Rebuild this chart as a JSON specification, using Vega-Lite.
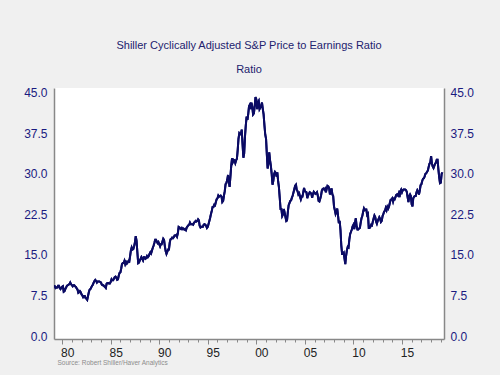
{
"$schema": "https://vega.github.io/schema/vega-lite/v6.json",
"width": 390, "height": 251,
"autosize": "none",
"padding": {"left": 54, "top": 88, "right": 56, "bottom": 36},
"background": "#f0f0f0",
"view": {"fill": "white", "stroke": null},
"title": {"text": "Shiller Cyclically Adjusted S&P Price to Earnings Ratio", "subtitle": "Ratio", "font": "Liberation Sans", "fontSize": 11, "fontWeight": "normal", "color": "#22226e", "subtitleFont": "Liberation Sans", "subtitleFontSize": 11, "subtitleColor": "#22226e", "subtitlePadding": 13, "offset": 12, "anchor": "middle", "frame": "group"},
"datasets": {"cape": [
{"date":"1979-03-01","v":9.2},{"date":"1979-04-01","v":9.2},{"date":"1979-05-01","v":8.9},{"date":"1979-06-01","v":9.0},{"date":"1979-07-01","v":9.0},{"date":"1979-08-01","v":9.3},{"date":"1979-09-01","v":9.3},{"date":"1979-10-01","v":8.9},{"date":"1979-11-01","v":8.7},{"date":"1979-12-01","v":8.9},
{"date":"1980-01-01","v":9.1},{"date":"1980-02-01","v":9.2},{"date":"1980-03-01","v":8.2},{"date":"1980-04-01","v":8.3},{"date":"1980-05-01","v":8.7},{"date":"1980-06-01","v":9.0},{"date":"1980-07-01","v":9.3},{"date":"1980-08-01","v":9.4},{"date":"1980-09-01","v":9.5},{"date":"1980-10-01","v":9.6},{"date":"1980-11-01","v":9.9},{"date":"1980-12-01","v":9.6},
{"date":"1981-01-01","v":9.4},{"date":"1981-02-01","v":9.2},{"date":"1981-03-01","v":9.4},{"date":"1981-04-01","v":9.4},{"date":"1981-05-01","v":9.2},{"date":"1981-06-01","v":9.1},{"date":"1981-07-01","v":8.8},{"date":"1981-08-01","v":8.6},{"date":"1981-09-01","v":8.0},{"date":"1981-10-01","v":8.1},{"date":"1981-11-01","v":8.3},{"date":"1981-12-01","v":8.1},
{"date":"1982-01-01","v":7.7},{"date":"1982-02-01","v":7.5},{"date":"1982-03-01","v":7.2},{"date":"1982-04-01","v":7.4},{"date":"1982-05-01","v":7.4},{"date":"1982-06-01","v":7.0},{"date":"1982-07-01","v":6.9},{"date":"1982-08-01","v":6.7},{"date":"1982-09-01","v":7.4},{"date":"1982-10-01","v":8.1},{"date":"1982-11-01","v":8.6},{"date":"1982-12-01","v":8.7},
{"date":"1983-01-01","v":9.0},{"date":"1983-02-01","v":9.3},{"date":"1983-03-01","v":9.5},{"date":"1983-04-01","v":9.9},{"date":"1983-05-01","v":10.2},{"date":"1983-06-01","v":10.4},{"date":"1983-07-01","v":10.2},{"date":"1983-08-01","v":9.9},{"date":"1983-09-01","v":10.1},{"date":"1983-10-01","v":10.1},{"date":"1983-11-01","v":10.1},{"date":"1983-12-01","v":10.0},
{"date":"1984-01-01","v":9.9},{"date":"1984-02-01","v":9.5},{"date":"1984-03-01","v":9.4},{"date":"1984-04-01","v":9.4},{"date":"1984-05-01","v":9.2},{"date":"1984-06-01","v":9.1},{"date":"1984-07-01","v":8.9},{"date":"1984-08-01","v":9.7},{"date":"1984-09-01","v":9.8},{"date":"1984-10-01","v":9.8},{"date":"1984-11-01","v":9.7},{"date":"1984-12-01","v":9.7},
{"date":"1985-01-01","v":10.0},{"date":"1985-02-01","v":10.5},{"date":"1985-03-01","v":10.3},{"date":"1985-04-01","v":10.3},{"date":"1985-05-01","v":10.6},{"date":"1985-06-01","v":10.9},{"date":"1985-07-01","v":11.0},{"date":"1985-08-01","v":10.8},{"date":"1985-09-01","v":10.4},{"date":"1985-10-01","v":10.5},{"date":"1985-11-01","v":11.2},{"date":"1985-12-01","v":11.7},
{"date":"1986-01-01","v":11.8},{"date":"1986-02-01","v":12.5},{"date":"1986-03-01","v":13.3},{"date":"1986-04-01","v":13.5},{"date":"1986-05-01","v":13.5},{"date":"1986-06-01","v":13.9},{"date":"1986-07-01","v":13.3},{"date":"1986-08-01","v":13.7},{"date":"1986-09-01","v":13.4},{"date":"1986-10-01","v":13.6},{"date":"1986-11-01","v":13.9},{"date":"1986-12-01","v":13.8},
{"date":"1987-01-01","v":14.8},{"date":"1987-02-01","v":15.9},{"date":"1987-03-01","v":16.4},{"date":"1987-04-01","v":16.0},{"date":"1987-05-01","v":16.1},{"date":"1987-06-01","v":16.6},{"date":"1987-07-01","v":17.3},{"date":"1987-08-01","v":18.5},{"date":"1987-09-01","v":17.6},{"date":"1987-10-01","v":15.5},{"date":"1987-11-01","v":13.5},{"date":"1987-12-01","v":13.6},
{"date":"1988-01-01","v":14.0},{"date":"1988-02-01","v":14.3},{"date":"1988-03-01","v":14.6},{"date":"1988-04-01","v":14.3},{"date":"1988-05-01","v":14.0},{"date":"1988-06-01","v":14.6},{"date":"1988-07-01","v":14.6},{"date":"1988-08-01","v":14.3},{"date":"1988-09-01","v":14.4},{"date":"1988-10-01","v":14.8},{"date":"1988-11-01","v":14.6},{"date":"1988-12-01","v":14.8},
{"date":"1989-01-01","v":15.2},{"date":"1989-02-01","v":15.5},{"date":"1989-03-01","v":15.3},{"date":"1989-04-01","v":15.8},{"date":"1989-05-01","v":16.3},{"date":"1989-06-01","v":16.7},{"date":"1989-07-01","v":17.2},{"date":"1989-08-01","v":17.8},{"date":"1989-09-01","v":17.8},{"date":"1989-10-01","v":17.5},{"date":"1989-11-01","v":17.2},{"date":"1989-12-01","v":17.4},
{"date":"1990-01-01","v":17.0},{"date":"1990-02-01","v":16.6},{"date":"1990-03-01","v":17.0},{"date":"1990-04-01","v":17.0},{"date":"1990-05-01","v":17.5},{"date":"1990-06-01","v":18.0},{"date":"1990-07-01","v":17.8},{"date":"1990-08-01","v":16.6},{"date":"1990-09-01","v":15.7},{"date":"1990-10-01","v":15.2},{"date":"1990-11-01","v":15.6},{"date":"1990-12-01","v":16.0},
{"date":"1991-01-01","v":16.0},{"date":"1991-02-01","v":17.3},{"date":"1991-03-01","v":17.9},{"date":"1991-04-01","v":18.0},{"date":"1991-05-01","v":18.2},{"date":"1991-06-01","v":18.1},{"date":"1991-07-01","v":18.3},{"date":"1991-08-01","v":18.6},{"date":"1991-09-01","v":18.6},{"date":"1991-10-01","v":18.7},{"date":"1991-11-01","v":18.4},{"date":"1991-12-01","v":19.0},
{"date":"1992-01-01","v":20.2},{"date":"1992-02-01","v":20.1},{"date":"1992-03-01","v":19.9},{"date":"1992-04-01","v":19.8},{"date":"1992-05-01","v":20.0},{"date":"1992-06-01","v":19.8},{"date":"1992-07-01","v":19.9},{"date":"1992-08-01","v":19.7},{"date":"1992-09-01","v":19.8},{"date":"1992-10-01","v":19.6},{"date":"1992-11-01","v":20.1},{"date":"1992-12-01","v":20.3},
{"date":"1993-01-01","v":20.5},{"date":"1993-02-01","v":20.6},{"date":"1993-03-01","v":21.0},{"date":"1993-04-01","v":20.7},{"date":"1993-05-01","v":20.7},{"date":"1993-06-01","v":20.7},{"date":"1993-07-01","v":20.6},{"date":"1993-08-01","v":21.0},{"date":"1993-09-01","v":21.1},{"date":"1993-10-01","v":21.3},{"date":"1993-11-01","v":21.2},{"date":"1993-12-01","v":21.3},
{"date":"1994-01-01","v":21.6},{"date":"1994-02-01","v":21.4},{"date":"1994-03-01","v":20.4},{"date":"1994-04-01","v":20.1},{"date":"1994-05-01","v":20.2},{"date":"1994-06-01","v":20.2},{"date":"1994-07-01","v":20.2},{"date":"1994-08-01","v":20.6},{"date":"1994-09-01","v":20.7},{"date":"1994-10-01","v":20.6},{"date":"1994-11-01","v":20.4},{"date":"1994-12-01","v":20.0},
{"date":"1995-01-01","v":20.2},{"date":"1995-02-01","v":20.8},{"date":"1995-03-01","v":21.3},{"date":"1995-04-01","v":21.9},{"date":"1995-05-01","v":22.6},{"date":"1995-06-01","v":23.2},{"date":"1995-07-01","v":23.9},{"date":"1995-08-01","v":23.9},{"date":"1995-09-01","v":24.3},{"date":"1995-10-01","v":24.2},{"date":"1995-11-01","v":24.8},{"date":"1995-12-01","v":25.3},
{"date":"1996-01-01","v":25.5},{"date":"1996-02-01","v":26.0},{"date":"1996-03-01","v":25.8},{"date":"1996-04-01","v":25.9},{"date":"1996-05-01","v":26.0},{"date":"1996-06-01","v":25.8},{"date":"1996-07-01","v":24.8},{"date":"1996-08-01","v":25.0},{"date":"1996-09-01","v":26.0},{"date":"1996-10-01","v":26.8},{"date":"1996-11-01","v":28.1},{"date":"1996-12-01","v":28.3},
{"date":"1997-01-01","v":28.9},{"date":"1997-02-01","v":29.8},{"date":"1997-03-01","v":28.6},{"date":"1997-04-01","v":27.6},{"date":"1997-05-01","v":29.5},{"date":"1997-06-01","v":31.5},{"date":"1997-07-01","v":32.9},{"date":"1997-08-01","v":32.2},{"date":"1997-09-01","v":32.6},{"date":"1997-10-01","v":32.5},{"date":"1997-11-01","v":32.0},{"date":"1997-12-01","v":32.5},
{"date":"1998-01-01","v":32.8},{"date":"1998-02-01","v":34.5},{"date":"1998-03-01","v":36.5},{"date":"1998-04-01","v":37.5},{"date":"1998-05-01","v":37.3},{"date":"1998-06-01","v":37.4},{"date":"1998-07-01","v":38.2},{"date":"1998-08-01","v":35.5},{"date":"1998-09-01","v":33.0},{"date":"1998-10-01","v":33.8},{"date":"1998-11-01","v":37.0},{"date":"1998-12-01","v":39.0},
{"date":"1999-01-01","v":40.6},{"date":"1999-02-01","v":40.0},{"date":"1999-03-01","v":41.0},{"date":"1999-04-01","v":42.5},{"date":"1999-05-01","v":42.8},{"date":"1999-06-01","v":42.0},{"date":"1999-07-01","v":43.2},{"date":"1999-08-01","v":42.5},{"date":"1999-09-01","v":41.0},{"date":"1999-10-01","v":41.2},{"date":"1999-11-01","v":42.5},{"date":"1999-12-01","v":44.2},
{"date":"2000-01-01","v":43.8},{"date":"2000-02-01","v":42.0},{"date":"2000-03-01","v":43.2},{"date":"2000-04-01","v":43.5},{"date":"2000-05-01","v":42.0},{"date":"2000-06-01","v":42.3},{"date":"2000-07-01","v":42.6},{"date":"2000-08-01","v":43.2},{"date":"2000-09-01","v":42.0},{"date":"2000-10-01","v":41.0},{"date":"2000-11-01","v":39.0},{"date":"2000-12-01","v":37.3},
{"date":"2001-01-01","v":36.5},{"date":"2001-02-01","v":33.5},{"date":"2001-03-01","v":31.0},{"date":"2001-04-01","v":32.0},{"date":"2001-05-01","v":34.0},{"date":"2001-06-01","v":32.5},{"date":"2001-07-01","v":31.5},{"date":"2001-08-01","v":30.0},{"date":"2001-09-01","v":28.0},{"date":"2001-10-01","v":28.7},{"date":"2001-11-01","v":30.0},{"date":"2001-12-01","v":30.4},
{"date":"2002-01-01","v":30.2},{"date":"2002-02-01","v":29.5},{"date":"2002-03-01","v":30.3},{"date":"2002-04-01","v":28.6},{"date":"2002-05-01","v":27.5},{"date":"2002-06-01","v":25.5},{"date":"2002-07-01","v":23.5},{"date":"2002-08-01","v":23.5},{"date":"2002-09-01","v":22.2},{"date":"2002-10-01","v":22.5},{"date":"2002-11-01","v":23.5},{"date":"2002-12-01","v":22.8},
{"date":"2003-01-01","v":22.0},{"date":"2003-02-01","v":21.3},{"date":"2003-03-01","v":21.4},{"date":"2003-04-01","v":23.0},{"date":"2003-05-01","v":24.2},{"date":"2003-06-01","v":24.6},{"date":"2003-07-01","v":25.0},{"date":"2003-08-01","v":25.1},{"date":"2003-09-01","v":25.6},{"date":"2003-10-01","v":26.0},{"date":"2003-11-01","v":26.6},{"date":"2003-12-01","v":27.2},
{"date":"2004-01-01","v":27.8},{"date":"2004-02-01","v":28.0},{"date":"2004-03-01","v":27.0},{"date":"2004-04-01","v":26.8},{"date":"2004-05-01","v":26.2},{"date":"2004-06-01","v":26.4},{"date":"2004-07-01","v":25.8},{"date":"2004-08-01","v":25.3},{"date":"2004-09-01","v":25.8},{"date":"2004-10-01","v":25.8},{"date":"2004-11-01","v":26.6},{"date":"2004-12-01","v":27.4},
{"date":"2005-01-01","v":26.8},{"date":"2005-02-01","v":26.7},{"date":"2005-03-01","v":26.6},{"date":"2005-04-01","v":25.5},{"date":"2005-05-01","v":26.0},{"date":"2005-06-01","v":26.3},{"date":"2005-07-01","v":26.6},{"date":"2005-08-01","v":26.5},{"date":"2005-09-01","v":26.3},{"date":"2005-10-01","v":25.6},{"date":"2005-11-01","v":26.3},{"date":"2005-12-01","v":26.7},
{"date":"2006-01-01","v":26.5},{"date":"2006-02-01","v":26.3},{"date":"2006-03-01","v":26.4},{"date":"2006-04-01","v":26.6},{"date":"2006-05-01","v":26.0},{"date":"2006-06-01","v":25.0},{"date":"2006-07-01","v":24.9},{"date":"2006-08-01","v":25.4},{"date":"2006-09-01","v":26.0},{"date":"2006-10-01","v":26.9},{"date":"2006-11-01","v":27.2},{"date":"2006-12-01","v":27.3},
{"date":"2007-01-01","v":27.1},{"date":"2007-02-01","v":27.3},{"date":"2007-03-01","v":26.6},{"date":"2007-04-01","v":27.2},{"date":"2007-05-01","v":27.8},{"date":"2007-06-01","v":27.7},{"date":"2007-07-01","v":27.4},{"date":"2007-08-01","v":26.2},{"date":"2007-09-01","v":26.8},{"date":"2007-10-01","v":27.3},{"date":"2007-11-01","v":26.2},{"date":"2007-12-01","v":25.9},
{"date":"2008-01-01","v":24.0},{"date":"2008-02-01","v":23.3},{"date":"2008-03-01","v":22.6},{"date":"2008-04-01","v":23.0},{"date":"2008-05-01","v":23.6},{"date":"2008-06-01","v":22.3},{"date":"2008-07-01","v":20.9},{"date":"2008-08-01","v":21.3},{"date":"2008-09-01","v":19.6},{"date":"2008-10-01","v":16.8},{"date":"2008-11-01","v":15.2},{"date":"2008-12-01","v":15.2},
{"date":"2009-01-01","v":15.4},{"date":"2009-02-01","v":14.3},{"date":"2009-03-01","v":13.3},{"date":"2009-04-01","v":14.9},{"date":"2009-05-01","v":15.9},{"date":"2009-06-01","v":16.5},{"date":"2009-07-01","v":16.4},{"date":"2009-08-01","v":17.9},{"date":"2009-09-01","v":18.9},{"date":"2009-10-01","v":19.3},{"date":"2009-11-01","v":19.7},{"date":"2009-12-01","v":20.3},
{"date":"2010-01-01","v":20.6},{"date":"2010-02-01","v":19.8},{"date":"2010-03-01","v":21.0},{"date":"2010-04-01","v":21.8},{"date":"2010-05-01","v":20.3},{"date":"2010-06-01","v":19.7},{"date":"2010-07-01","v":19.7},{"date":"2010-08-01","v":19.9},{"date":"2010-09-01","v":20.0},{"date":"2010-10-01","v":21.0},{"date":"2010-11-01","v":21.8},{"date":"2010-12-01","v":22.2},
{"date":"2011-01-01","v":23.0},{"date":"2011-02-01","v":23.6},{"date":"2011-03-01","v":23.3},{"date":"2011-04-01","v":23.4},{"date":"2011-05-01","v":23.4},{"date":"2011-06-01","v":22.4},{"date":"2011-07-01","v":22.6},{"date":"2011-08-01","v":20.0},{"date":"2011-09-01","v":20.0},{"date":"2011-10-01","v":20.2},{"date":"2011-11-01","v":20.6},{"date":"2011-12-01","v":20.5},
{"date":"2012-01-01","v":21.2},{"date":"2012-02-01","v":21.8},{"date":"2012-03-01","v":22.3},{"date":"2012-04-01","v":22.0},{"date":"2012-05-01","v":21.2},{"date":"2012-06-01","v":20.8},{"date":"2012-07-01","v":21.3},{"date":"2012-08-01","v":21.6},{"date":"2012-09-01","v":22.0},{"date":"2012-10-01","v":21.7},{"date":"2012-11-01","v":21.1},{"date":"2012-12-01","v":21.3},
{"date":"2013-01-01","v":22.2},{"date":"2013-02-01","v":22.6},{"date":"2013-03-01","v":23.0},{"date":"2013-04-01","v":23.2},{"date":"2013-05-01","v":23.7},{"date":"2013-06-01","v":23.3},{"date":"2013-07-01","v":23.9},{"date":"2013-08-01","v":23.6},{"date":"2013-09-01","v":24.0},{"date":"2013-10-01","v":24.6},{"date":"2013-11-01","v":25.2},{"date":"2013-12-01","v":25.3},
{"date":"2014-01-01","v":25.5},{"date":"2014-02-01","v":24.9},{"date":"2014-03-01","v":25.4},{"date":"2014-04-01","v":25.3},{"date":"2014-05-01","v":25.7},{"date":"2014-06-01","v":26.1},{"date":"2014-07-01","v":26.2},{"date":"2014-08-01","v":26.0},{"date":"2014-09-01","v":26.4},{"date":"2014-10-01","v":25.7},{"date":"2014-11-01","v":26.8},{"date":"2014-12-01","v":27.1},
{"date":"2015-01-01","v":26.6},{"date":"2015-02-01","v":27.0},{"date":"2015-03-01","v":27.1},{"date":"2015-04-01","v":27.1},{"date":"2015-05-01","v":27.1},{"date":"2015-06-01","v":27.0},{"date":"2015-07-01","v":26.7},{"date":"2015-08-01","v":25.7},{"date":"2015-09-01","v":24.8},{"date":"2015-10-01","v":25.9},{"date":"2015-11-01","v":26.2},{"date":"2015-12-01","v":25.9},
{"date":"2016-01-01","v":24.4},{"date":"2016-02-01","v":24.0},{"date":"2016-03-01","v":25.5},{"date":"2016-04-01","v":25.8},{"date":"2016-05-01","v":25.9},{"date":"2016-06-01","v":25.9},{"date":"2016-07-01","v":26.6},{"date":"2016-08-01","v":27.0},{"date":"2016-09-01","v":26.7},{"date":"2016-10-01","v":26.2},{"date":"2016-11-01","v":26.9},{"date":"2016-12-01","v":27.9},
{"date":"2017-01-01","v":28.1},{"date":"2017-02-01","v":28.7},{"date":"2017-03-01","v":29.1},{"date":"2017-04-01","v":29.2},{"date":"2017-05-01","v":29.5},{"date":"2017-06-01","v":30.0},{"date":"2017-07-01","v":30.1},{"date":"2017-08-01","v":30.4},{"date":"2017-09-01","v":30.6},{"date":"2017-10-01","v":31.3},{"date":"2017-11-01","v":31.9},{"date":"2017-12-01","v":32.1},
{"date":"2018-01-01","v":33.3},{"date":"2018-02-01","v":31.9},{"date":"2018-03-01","v":31.4},{"date":"2018-04-01","v":31.1},{"date":"2018-05-01","v":31.5},{"date":"2018-06-01","v":31.9},{"date":"2018-07-01","v":32.1},{"date":"2018-08-01","v":32.6},{"date":"2018-09-01","v":32.6},{"date":"2018-10-01","v":30.9},{"date":"2018-11-01","v":29.4},{"date":"2018-12-01","v":28.3},
{"date":"2019-01-01","v":28.4},{"date":"2019-02-01","v":30.0},{"date":"2019-03-01","v":30.3}
]},
"data": {"name": "cape"},
"encoding": {
  "x": {"field": "date", "type": "temporal",
   "scale": {"type": "utc", "domain": [{"year": 1979, "month": 3, "date": 1, "utc": true}, {"year": 2019, "month": 5, "date": 1, "utc": true}]},
   "axis": {"values": [{"year":1980,"utc":true},{"year":1981,"utc":true},{"year":1982,"utc":true},{"year":1983,"utc":true},{"year":1984,"utc":true},{"year":1985,"utc":true},{"year":1986,"utc":true},{"year":1987,"utc":true},{"year":1988,"utc":true},{"year":1989,"utc":true},{"year":1990,"utc":true},{"year":1991,"utc":true},{"year":1992,"utc":true},{"year":1993,"utc":true},{"year":1994,"utc":true},{"year":1995,"utc":true},{"year":1996,"utc":true},{"year":1997,"utc":true},{"year":1998,"utc":true},{"year":1999,"utc":true},{"year":2000,"utc":true},{"year":2001,"utc":true},{"year":2002,"utc":true},{"year":2003,"utc":true},{"year":2004,"utc":true},{"year":2005,"utc":true},{"year":2006,"utc":true},{"year":2007,"utc":true},{"year":2008,"utc":true},{"year":2009,"utc":true},{"year":2010,"utc":true},{"year":2011,"utc":true},{"year":2012,"utc":true},{"year":2013,"utc":true},{"year":2014,"utc":true},{"year":2015,"utc":true},{"year":2016,"utc":true},{"year":2017,"utc":true},{"year":2018,"utc":true},{"year":2019,"utc":true}],
    "labelExpr": "utcyear(datum.value) % 5 == 0 ? utcFormat(datum.value, '%y') : ''",
    "labelOverlap": false, "labelFlush": false, "labelBound": false,
    "labelOffset": 5, "labelPadding": 3,
    "labelFont": "Liberation Sans", "labelFontSize": 12, "labelColor": "#222222",
    "tickSize": {"condition": {"test": "utcyear(datum.value) % 5 == 0", "value": 5}, "value": 3},
    "tickColor": "#888888", "tickWidth": 1,
    "domainColor": "#888888", "domainWidth": 1.5,
    "grid": false,
    "title": "Source:  Robert Shiller/Haver Analytics",
    "titleFont": "Liberation Sans", "titleFontSize": 6.5, "titleFontWeight": "normal", "titleColor": "#8c8c8c",
    "titleAnchor": "start", "titleAlign": "left", "titlePadding": 1, "titleX": 3}}
},
"layer": [
{"mark": {"type": "line", "color": "#0a0a64", "strokeWidth": 2, "clip": true},
 "encoding": {
  "y": {"field": "v", "type": "quantitative",
   "scale": {"domain": [-0.55, 45.9], "nice": false, "zero": false},
   "axis": {"orient": "left", "values": [0, 7.5, 15, 22.5, 30, 37.5, 45], "format": ".1f", "ticks": false, "grid": false,
    "domainColor": "#888888", "domainWidth": 1.5,
    "labelFont": "Liberation Sans", "labelFontSize": 12, "labelColor": "#1a1a80", "labelPadding": 7, "title": null}}
 }},
{"mark": {"type": "line", "color": "#0a0a64", "strokeWidth": 2, "clip": true},
 "encoding": {
  "y": {"field": "v", "type": "quantitative",
   "axis": {"orient": "right", "values": [0, 7.5, 15, 22.5, 30, 37.5, 45], "format": ".1f", "ticks": false, "grid": false,
    "domainColor": "#888888", "domainWidth": 1.5,
    "labelFont": "Liberation Sans", "labelFontSize": 12, "labelColor": "#1a1a80", "labelPadding": 6, "title": null}}
 }}
],
"resolve": {"axis": {"y": "independent"}}
}
